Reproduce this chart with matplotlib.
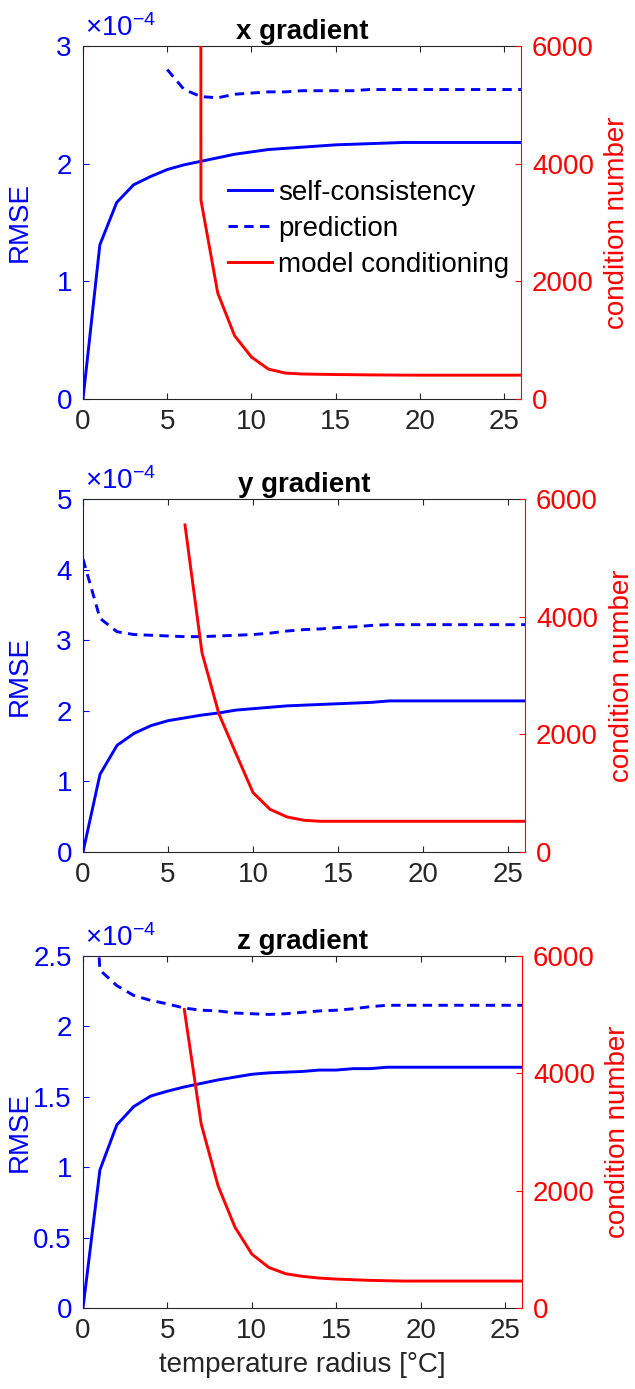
import numpy as np
import matplotlib

matplotlib.use('Agg')
import matplotlib.pyplot as plt
from matplotlib.ticker import FuncFormatter

plt.rcParams['font.family'] = ['Liberation Sans', 'DejaVu Sans']
plt.rcParams['mathtext.fontset'] = 'custom'
plt.rcParams['mathtext.rm'] = 'Liberation Sans'
plt.rcParams['mathtext.it'] = 'Liberation Sans'

nan = np.nan
radius = np.arange(27)

titles = ['x gradient', 'y gradient', 'z gradient']
legend_labels = ['self-consistency', 'prediction', 'model conditioning']

# RMSE values in units of 1e-4
selfcons_x = [0, 1.31, 1.67, 1.82, 1.89, 1.95, 1.99, 2.02, 2.05, 2.08, 2.10, 2.12, 2.13, 2.14,
              2.15, 2.16, 2.165, 2.17, 2.175, 2.18, 2.18, 2.18, 2.18, 2.18, 2.18, 2.18, 2.18]
pred_x = [nan, nan, nan, nan, nan, 2.80, 2.63, 2.57, 2.56, 2.59, 2.60, 2.61, 2.61, 2.62,
          2.62, 2.62, 2.62, 2.63, 2.63, 2.63, 2.63, 2.63, 2.63, 2.63, 2.63, 2.63, 2.63]
cond_x = [nan, nan, nan, nan, nan, nan, 1e6, 3384, 1800, 1075, 713, 509, 441, 425,
          420, 416, 413, 410, 408, 406, 405, 405, 405, 405, 405, 405, 405]

selfcons_y = [0, 1.10, 1.51, 1.68, 1.79, 1.86, 1.90, 1.94, 1.97, 2.01, 2.03, 2.05, 2.07, 2.08,
              2.09, 2.10, 2.11, 2.12, 2.14, 2.14, 2.14, 2.14, 2.14, 2.14, 2.14, 2.14, 2.14]
pred_y = [4.15, 3.31, 3.12, 3.08, 3.07, 3.06, 3.05, 3.05, 3.06, 3.07, 3.08, 3.10, 3.13, 3.15,
          3.16, 3.18, 3.19, 3.21, 3.22, 3.22, 3.22, 3.22, 3.22, 3.22, 3.22, 3.22, 3.22]
cond_y = [nan, nan, nan, nan, nan, nan, 5559, 3386, 2343, 1673, 1010, 726, 596, 539,
          522, 522, 522, 522, 522, 522, 522, 522, 522, 522, 522, 522, 522]

selfcons_z = [0, 0.98, 1.30, 1.43, 1.505, 1.54, 1.57, 1.595, 1.62, 1.64, 1.66, 1.67, 1.675, 1.68,
              1.69, 1.69, 1.70, 1.70, 1.71, 1.71, 1.71, 1.71, 1.71, 1.71, 1.71, 1.71, 1.71]
pred_z = [4.5, 2.40, 2.29, 2.22, 2.185, 2.16, 2.13, 2.115, 2.11, 2.095, 2.09, 2.085, 2.09, 2.10,
          2.11, 2.115, 2.125, 2.14, 2.15, 2.15, 2.15, 2.15, 2.15, 2.15, 2.15, 2.15, 2.15]
cond_z = [nan, nan, nan, nan, nan, nan, 5088, 3137, 2082, 1378, 919, 692, 584, 539,
          510, 493, 482, 471, 465, 459, 459, 459, 459, 459, 459, 459, 459]

rmse_limits = [3, 5, 2.5]
rmse_ticks = [[0, 1, 2, 3], [0, 1, 2, 3, 4, 5], [0, 0.5, 1, 1.5, 2, 2.5]]

series = [(selfcons_x, pred_x, cond_x), (selfcons_y, pred_y, cond_y), (selfcons_z, pred_z, cond_z)]

W, H = 635, 1389
# axes boxes in pixels: left, right, top, bottom
boxes = [(83, 521, 46, 399), (83, 525, 499, 852), (83, 522, 956, 1308)]

BLUE = (0, 0, 1)
RED = (1, 0, 0)
GRAY = (0.15, 0.15, 0.15)
FS = 20

fig = plt.figure(figsize=(W / 100, H / 100), dpi=100)

for i, (sc, pr, cn) in enumerate(series):
    l, r, t, b = boxes[i]
    ax = fig.add_axes([l / W, 1 - b / H, (r - l) / W, (b - t) / H])
    ax2 = ax.twinx()

    scale = 1e-4
    h1, = ax.plot(radius, np.array(sc) * scale, color=BLUE, lw=2.1)
    h2, = ax.plot(radius, np.array(pr) * scale, color=BLUE, lw=2.1, ls=(0, (3.2, 2.2)))
    h3, = ax2.plot(radius, cn, color=RED, lw=2.1)

    ax.set_xlim(0, 26)
    ax.set_ylim(0, rmse_limits[i] * scale)
    ax.set_yticks(np.array(rmse_ticks[i]) * scale)
    ax.yaxis.set_major_formatter(FuncFormatter(lambda v, p: f'{v / 1e-4:g}'))
    ax.set_xticks([0, 5, 10, 15, 20, 25])
    ax2.set_ylim(0, 6000)
    ax2.set_yticks([0, 2000, 4000, 6000])

    ax.tick_params(axis='x', direction='in', top=True, length=4, width=0.8, color=GRAY,
                   labelsize=FS, labelcolor=GRAY, pad=7)
    ax.tick_params(axis='y', direction='in', length=4, width=0.8, color=BLUE,
                   labelsize=FS, labelcolor=BLUE, pad=8)
    ax2.tick_params(axis='y', direction='in', length=4, width=0.8, color=RED,
                    labelsize=FS, labelcolor=RED, pad=8)

    ax.spines['left'].set_color(BLUE)
    ax.spines['right'].set_visible(False)
    for s in ['top', 'bottom']:
        ax.spines[s].set_color(GRAY)
        ax.spines[s].set_linewidth(0.8)
        ax2.spines[s].set_visible(False)
    ax.spines['left'].set_linewidth(0.8)
    ax2.spines['left'].set_visible(False)
    ax2.spines['right'].set_color(RED)
    ax2.spines['right'].set_linewidth(0.8)

    ax.set_ylabel('RMSE', color=BLUE, fontsize=FS)
    ax.yaxis.set_label_coords(-0.114, 0.5)
    ax2.set_ylabel('condition number', color=RED, fontsize=FS)
    ax2.yaxis.set_label_coords(1.19, 0.5)

    ax.set_title(titles[i], fontsize=FS, fontweight='bold', pad=5)
    ax.text(0.004, 1.01, r'$\times10^{-4}$', transform=ax.transAxes, color=BLUE,
            fontsize=FS, ha='left', va='bottom')

    if i == 2:
        ax.set_xlabel('temperature radius [°C]', fontsize=FS, color=GRAY, labelpad=6)
    if i == 0:
        ax2.legend([h1, h2, h3], legend_labels, loc='upper left', frameon=False,
                   bbox_to_anchor=(228 / W, 1 - 180 / H), bbox_transform=fig.transFigure,
                   borderaxespad=0, borderpad=0, fontsize=FS, handlelength=1.6,
                   handletextpad=0.2, labelspacing=0.36)

fig.savefig('out.png', dpi=100)
